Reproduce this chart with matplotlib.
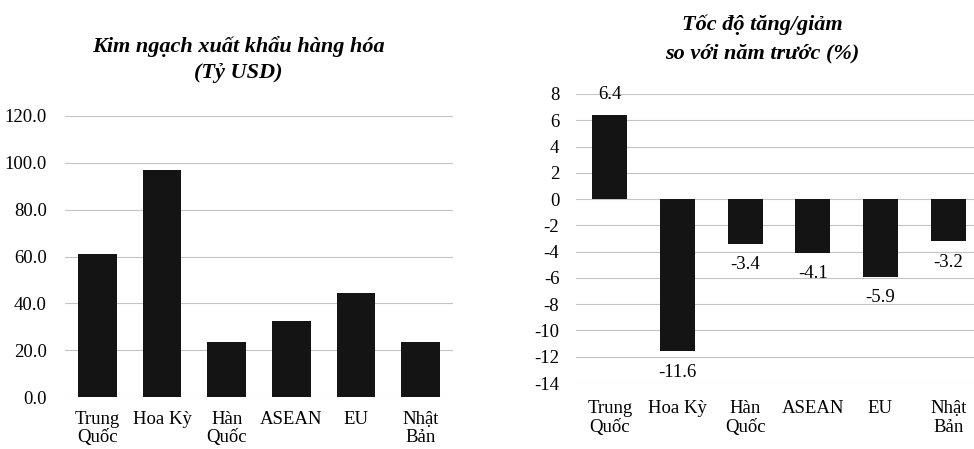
import matplotlib
matplotlib.use("Agg")
import matplotlib.pyplot as plt

categories = ["Trung\nQuốc", "Hoa Kỳ", "Hàn\nQuốc", "ASEAN", "EU", "Nhật\nBản"]
export_values = [61.2, 96.8, 23.5, 32.6, 44.2, 23.6]
growth_values = [6.4, -11.6, -3.4, -4.1, -5.9, -3.2]
left_ticks = [0, 20, 40, 60, 80, 100, 120]
right_ticks = [8, 6, 4, 2, 0, -2, -4, -6, -8, -10, -12, -14]

plt.rcParams['font.family'] = ['Liberation Serif', 'DejaVu Serif']
bar_color = '#141414'
grid_color = '#c4c4c4'
tick_fs = 13.5
title_fs = 16

fig = plt.figure(figsize=(9.74, 4.49), dpi=100)

# Left chart
ax1 = fig.add_axes([65/974, 1-397/449, 388/974, 281/449])
x = range(len(categories))
ax1.bar(x, export_values, width=0.6, color=bar_color, zorder=3)
ax1.set_ylim(0, 120)
ax1.set_xlim(-0.5, 5.5)
ax1.set_yticks(left_ticks)
ax1.set_yticklabels([f"{v:.1f}" for v in left_ticks])
ax1.set_xticks(list(x))
ax1.set_xticklabels(categories)
for v in left_ticks:
    ax1.axhline(v, color=grid_color, lw=0.8, zorder=1)
for s in ax1.spines.values():
    s.set_visible(False)
ax1.tick_params(axis='both', length=0, labelsize=tick_fs)
ax1.tick_params(axis='y', pad=13)
ax1.tick_params(axis='x', pad=10)
for lbl in ax1.get_xticklabels():
    lbl.set_linespacing(1.08)

fig.text(238/974, 1-47/449, "Kim ngạch xuất khẩu hàng hóa", ha='center', va='center',
         fontsize=title_fs, fontweight='bold', fontstyle='italic')
fig.text(238/974, 1-73/449, "(Tỷ USD)", ha='center', va='center',
         fontsize=title_fs, fontweight='bold', fontstyle='italic')

# Right chart
ax2 = fig.add_axes([576/974, 1-383/449, 406/974, 289/449])
bars = ax2.bar(x, growth_values, width=0.52, color=bar_color, zorder=3)
ax2.set_ylim(-14, 8)
ax2.set_xlim(-0.5, 5.5)
ax2.set_yticks(right_ticks)
ax2.set_yticklabels([str(v) for v in right_ticks])
ax2.set_xticks(list(x))
ax2.set_xticklabels(categories)
for v in right_ticks:
    ax2.axhline(v, color=grid_color, lw=0.8, zorder=1)
for s in ax2.spines.values():
    s.set_visible(False)
ax2.tick_params(axis='both', length=0, labelsize=tick_fs)
ax2.tick_params(axis='y', pad=12)
ax2.tick_params(axis='x', pad=12)
for lbl in ax2.get_xticklabels():
    lbl.set_linespacing(1.15)
ax2.bar_label(bars, labels=[f"{v:.1f}" for v in growth_values], padding=9, fontsize=tick_fs)

fig.text(762/974, 1-25/449, "Tốc độ tăng/giảm", ha='center', va='center',
         fontsize=title_fs, fontweight='bold', fontstyle='italic')
fig.text(762/974, 1-53/449, "so với năm trước (%)", ha='center', va='center',
         fontsize=title_fs, fontweight='bold', fontstyle='italic')

fig.savefig("out.png", dpi=100)
